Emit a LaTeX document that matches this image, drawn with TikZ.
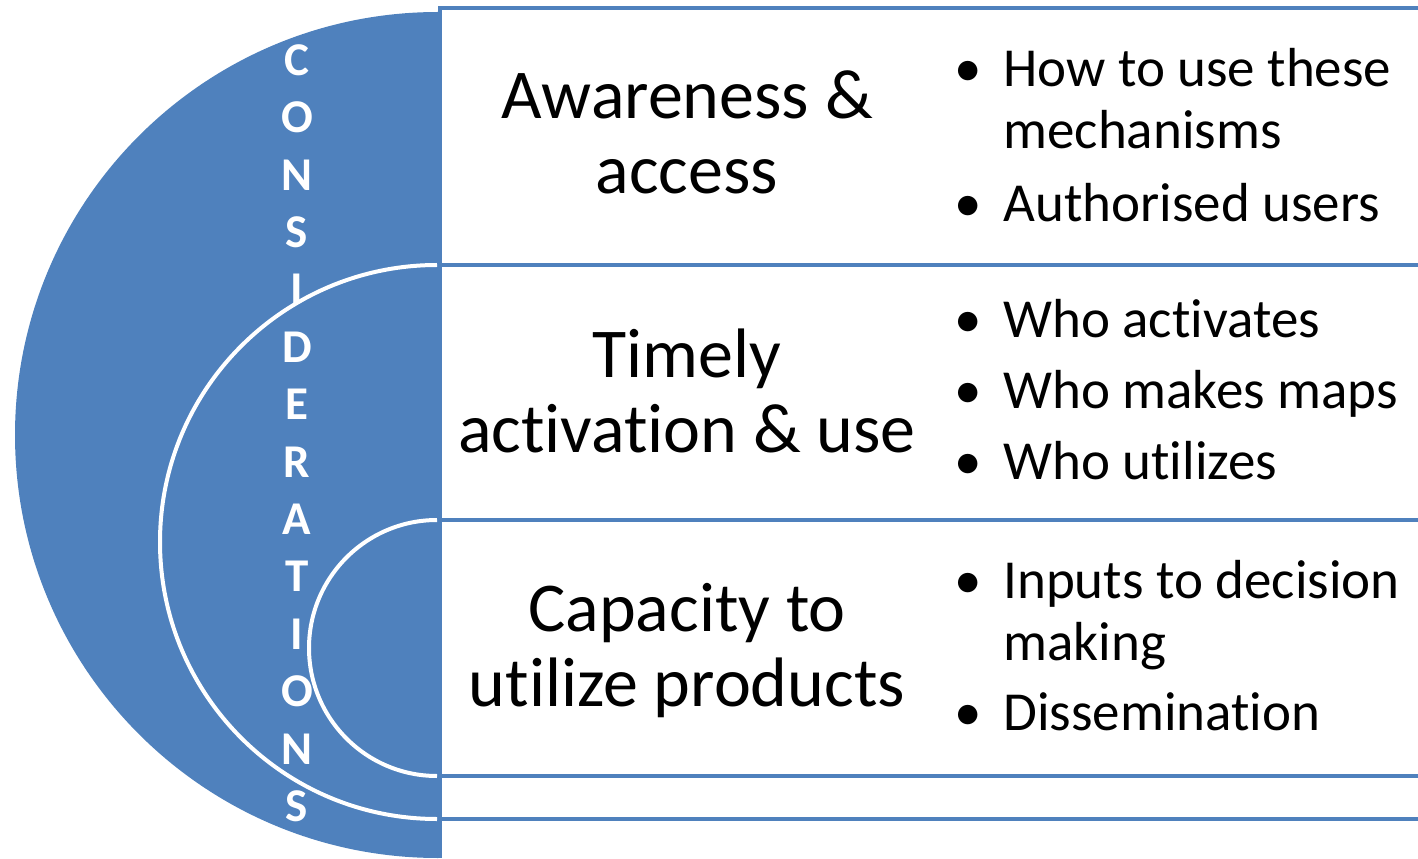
\documentclass[tikz,border=0pt]{standalone}
\usepackage{fontspec}
\setmainfont{Carlito}[Ligatures=NoCommon]
\usetikzlibrary{positioning}
\definecolor{considblue}{HTML}{4F81BD}
\tikzset{
  rowbox/.style={draw=considblue,line width=2pt,fill=white},
  ring/.style={draw=white,line width=2pt},
  heading/.style={align=center,inner sep=0pt,font=\fontsize{35}{37.5}\selectfont},
  point/.style={align=left,inner sep=0pt,anchor=base west,font=\fontsize{27.5}{31}\selectfont},
  letter/.style={text=white,inner sep=0pt,font=\fontsize{23.5}{24}\selectfont\bfseries}
}
\newcommand{\bul}{\llap{\textbullet\hskip 11pt}}

\begin{document}
\begin{tikzpicture}[x=0.5pt,y=0.5pt]
  \useasboundingbox (0,0) rectangle (1418,858);
  \clip (0,0) rectangle (1418,858);
  \fill[considblue] (438,846) arc[start angle=90,end angle=270,radius=423] -- cycle;
  \draw[considblue,line width=2pt] (440,0) -- (440,850);
  \draw[ring] (437,593) arc[start angle=90,end angle=270,radius=277];
  \draw[ring] (437,338) arc[start angle=90,end angle=270,radius=128];
  \draw[rowbox] (440,593) rectangle (1440,850);
  \draw[rowbox] (440,338) rectangle (1440,593);
  \draw[rowbox] (440,82) rectangle (1440,338);
  \draw[rowbox] (440,39) rectangle (1440,82);

  \node[heading] (aware) at (687,725.5) {Awareness \&\\access};
  \node[heading] (timely) at (687,467) {Timely\\activation \& use};
  \node[heading] (capacity) at (687,207) {Capacity to\\utilize products};

  \node[point] (howto) at (1003,709) {\bul How to use these\\mechanisms};
  \node[point] (authorised) at (1003,636) {\bul Authorised users};
  \node[point] (whoact) at (1003,520) {\bul Who activates};
  \node[point] (whomaps) at (1003,450) {\bul Who makes maps};
  \node[point] (whoutil) at (1003,379) {\bul Who utilizes};
  \node[point] (inputs) at (1003,198) {\bul Inputs to decision\\making};
  \node[point] (dissem) at (1003,128) {\bul Dissemination};

  \foreach \ltr [count=\i from 0] in {C,O,N,S,I,D,E,R,A,T,I,O,N,S}
    \node[letter] (l\i) at (297,{798-57.4*\i}) {\ltr};
\end{tikzpicture}
\end{document}
